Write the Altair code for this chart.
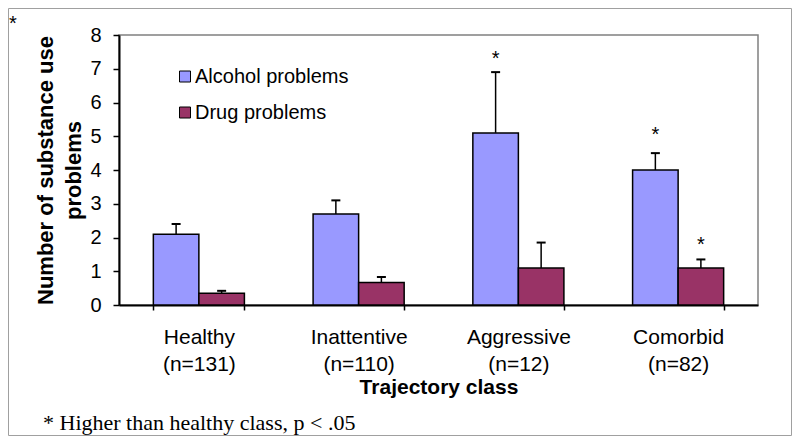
import altair as alt
import pandas as pd

categories = ["Healthy", "Inattentive", "Aggressive", "Comorbid"]
group_sizes = [131, 110, 12, 82]
series = ["Alcohol problems", "Drug problems"]
alcohol_mean = [2.1, 2.7, 5.1, 4.0]
alcohol_upper = [2.4, 3.1, 6.9, 4.5]
drug_mean = [0.35, 0.67, 1.1, 1.1]
drug_upper = [0.42, 0.83, 1.85, 1.35]
alcohol_star = [None, None, 7.45, 5.2]
drug_star = [None, None, None, 1.93]
colors = ["#9999FF", "#993366"]
y_ticks = [0, 1, 2, 3, 4, 5, 6, 7, 8]
footnote = "* Higher than healthy class, p < .05"

labels = [f"{c}|(n={n})" for c, n in zip(categories, group_sizes)]
rows = []
for i, lab in enumerate(labels):
    rows.append({"label": lab, "series": series[0], "value": alcohol_mean[i],
                 "upper": alcohol_upper[i], "star": alcohol_star[i]})
    rows.append({"label": lab, "series": series[1], "value": drug_mean[i],
                 "upper": drug_upper[i], "star": drug_star[i]})
df = pd.DataFrame(rows)

FONT = "Liberation Sans"

x_enc = alt.X(
    "label:N", sort=labels,
    scale=alt.Scale(paddingInner=0.43, paddingOuter=0.215),
    axis=alt.Axis(
        title="Trajectory class", labelExpr="split(datum.label, '|')",
        labelAngle=0, labelFont=FONT, labelFontSize=21, labelColor="black",
        labelBaseline="top", labelLineHeight=27, labelPadding=16,
        tickBand="extent", tickSize=5, tickColor="black", tickWidth=1.5,
        domainColor="black", domainWidth=2,
        titleFont=FONT, titleFontSize=21, titleFontWeight="bold", titleColor="black",
        titleY=88, titleBaseline="alphabetic",
    ),
)
xo_enc = alt.XOffset("series:N", sort=series, scale=alt.Scale(paddingInner=0, paddingOuter=0))
y_scale = alt.Scale(domain=[0, 8], nice=False, zero=True)
y_axis = alt.Axis(
    values=y_ticks, tickCount=9, labelOverlap=False, grid=False, tickSize=6,
    tickColor="black", tickWidth=1.5, domainColor="black", domainWidth=2,
    labelFont=FONT, labelFontSize=20, labelColor="black", labelPadding=12,
    title=["Number of substance use", "problems"], titleFont=FONT,
    titleFontSize=22, titleFontWeight="bold", titleColor="black",
    titleLineHeight=28, titleAngle=270, titleX=-62, titleY=135,
    titleAlign="center", titleBaseline="bottom",
)

base = alt.Chart(df)

bars = base.mark_bar(stroke="black", strokeWidth=1.5).encode(
    x=x_enc, xOffset=xo_enc,
    y=alt.Y("value:Q", scale=y_scale, axis=y_axis),
    color=alt.Color("series:N", scale=alt.Scale(domain=series, range=colors),
                    legend=alt.Legend(
                        title=None, orient="none", legendX=56, legendY=31.5,
                        direction="vertical", padding=0, labelFont=FONT,
                        labelFontSize=20, labelColor="black", symbolType="square",
                        symbolSize=121, symbolStrokeColor="black",
                        symbolStrokeWidth=1, symbolOpacity=1, rowPadding=16,
                        labelOffset=0)),
)

err = base.mark_rule(color="black", strokeWidth=1.5).encode(
    x=x_enc, xOffset=xo_enc, y=alt.Y("value:Q", scale=y_scale, axis=y_axis),
    y2="upper:Q")

caps = base.mark_tick(color="black", thickness=2, size=9, opacity=1).encode(
    x=x_enc, xOffset=xo_enc, y=alt.Y("upper:Q", scale=y_scale, axis=y_axis))

stars = base.transform_filter("isValid(datum.star)").mark_text(
    text="*", font=FONT, fontSize=20, baseline="middle", dy=5, color="black"
).encode(x=x_enc, xOffset=xo_enc, y=alt.Y("star:Q", scale=y_scale, axis=y_axis))

one = alt.Chart(pd.DataFrame({"t": [footnote]}))
note = one.mark_text(font="Liberation Serif", fontSize=22, align="left",
                     baseline="alphabetic", color="black").encode(
    text="t:N", x=alt.value(-76), y=alt.value(395))
corner = one.mark_text(text="*", font=FONT, fontSize=20, align="center",
                       baseline="middle", dy=5, color="black").encode(
    x=alt.value(-106), y=alt.value(-16))
frame = one.mark_rect(fillOpacity=0, stroke="#A0A0A0", strokeWidth=1).encode(
    x=alt.value(-110.5), x2=alt.value(672.5), y=alt.value(-26.5), y2=alt.value(400.5))

chart = alt.layer(frame, bars, err, caps, stars, note, corner).properties(
    width=639, height=270,
    padding={"left": 111, "top": 27, "right": 34, "bottom": 131},
    autosize=alt.AutoSizeParams(type="none"),
).configure_view(stroke="#808080", strokeWidth=1.5)

chart.save("out.html", embed_options={"renderer": "svg", "actions": False})
